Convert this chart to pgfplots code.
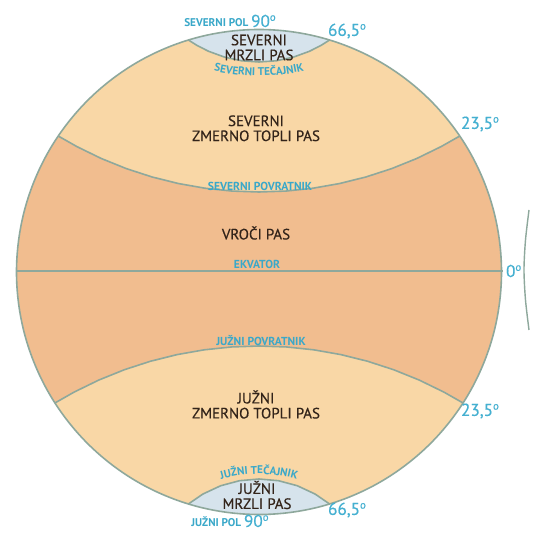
\documentclass[border=0pt]{standalone}
\usepackage{pgfplots}
\pgfplotsset{compat=1.18}
\usetikzlibrary{decorations.text}
\usepackage{fontspec}
\setmainfont{PT Sans}
\newfontfamily\semi[FakeBold=0.45]{PT Sans}
\definecolor{hot}{HTML}{F1BD8F}
\definecolor{warm}{HTML}{F9D7A6}
\definecolor{cold}{HTML}{D6E3EC}
\definecolor{edge}{HTML}{8EA89C}
\definecolor{cyantxt}{HTML}{3AA8C9}
\definecolor{degtxt}{HTML}{45B0D1}
\definecolor{darktxt}{HTML}{33241A}
\newcommand\dg{\raisebox{3.1pt}{\fontsize{5.4}{5}\selectfont o}}
\begin{document}
\begin{tikzpicture}
\begin{axis}[width=268pt,height=268pt,scale only axis,
  xmin=0,xmax=536,ymin=0,ymax=536,hide axis,clip=true,
  clip bounding box=upper bound]
% hot band background
\addplot[draw=none,fill=hot] coordinates {(-10,-10)(546,-10)(546,546)(-10,546)} -- cycle;
% north temperate
\addplot[draw=none,fill=warm] coordinates {
(-30,418.10)(30.94,418.10)(53.39,402.96)(58.2,400)(76.85,389.42)(101.18,377.54)(126.30,367.40)(152.05,359.03)(178.33,352.48)(205.0,347.78)(231.93,344.95)(259,344)(286.07,344.95)(313.0,347.78)(339.67,352.48)(365.95,359.03)(391.70,367.40)(416.82,377.54)(441.15,389.42)(459.8,400)(464.61,402.96)(487.06,418.10)(560,418.10)(560,560)(-30,560)} -- cycle;
% south temperate
\addplot[draw=none,fill=warm] coordinates {
(-30,114.79)(27.53,114.79)(50.32,130.16)(54.93,133)(74.12,143.91)(98.83,155.95)(124.31,166.25)(150.45,174.75)(177.12,181.39)(204.19,186.17)(231.53,189.04)(259,190)(286.47,189.04)(313.81,186.17)(340.88,181.39)(367.55,174.75)(393.69,166.25)(419.17,155.95)(443.88,143.91)(463.07,133)(467.68,130.16)(490.47,114.79)(560,114.79)(560,-30)(-30,-30)} -- cycle;
% north cap
\addplot[draw=none,fill=cold] coordinates {
(158,560)(169.66,511.92)(179.17,503.06)(188.4,496)(196.9,490.64)(208.48,484.74)(224.77,478.81)(241.71,475.21)(259,474)(276.29,475.21)(293.23,478.81)(309.52,484.74)(321.1,490.64)(329.6,496)(338.83,503.06)(348.34,511.92)(360,560)} -- cycle;
% south cap
\addplot[draw=none,fill=cold] coordinates {
(158,-30)(170.63,13.90)(179.71,24.15)(188.4,32)(202.93,41.98)(220.65,50.24)(239.53,55.30)(259,57)(278.47,55.30)(297.35,50.24)(315.07,41.98)(329.6,32)(338.29,24.15)(347.37,13.90)(360,-30)} -- cycle;
% white mask outside the globe
\addplot[draw=white,line width=78pt,smooth cycle,tension=0.6] coordinates {
(579.5,264)(568.58,346.95)(536.56,424.25)(485.63,490.63)(419.25,541.56)(341.95,573.58)(259,584.5)(176.05,573.58)(98.75,541.56)(32.37,490.63)(-18.56,424.25)(-50.58,346.95)(-61.5,264)(-50.58,181.05)(-18.56,103.75)(32.37,37.37)(98.75,-13.56)(176.05,-45.58)(259,-56.5)(341.95,-45.58)(419.25,-13.56)(485.63,37.37)(536.56,103.75)(568.58,181.05)};
% edge of the neighbouring globe
\addplot[draw=edge,line width=0.7pt,smooth] coordinates {(529,326)(525.5,296)(524,266)(525.5,236)(529,206)};
% outlines
\addplot[draw=edge,line width=0.8pt,smooth cycle,tension=0.6] coordinates {
(501.5,264)(493.24,326.76)(469.01,385.25)(430.47,435.47)(380.25,474.01)(321.76,498.24)(259,506.5)(196.24,498.24)(137.75,474.01)(87.53,435.47)(48.99,385.25)(24.76,326.76)(16.5,264)(24.76,201.24)(48.99,142.75)(87.53,92.53)(137.75,53.99)(196.24,29.76)(259,21.5)(321.76,29.76)(380.25,53.99)(430.47,92.53)(469.01,142.75)(493.24,201.24)};
\addplot[draw=edge,line width=0.8pt] coordinates {(16.5,265)(503,265)};
\addplot[draw=edge,line width=0.8pt] coordinates {
(58.2,400)(76.85,389.42)(101.18,377.54)(126.30,367.40)(152.05,359.03)(178.33,352.48)(205.0,347.78)(231.93,344.95)(259,344)(286.07,344.95)(313.0,347.78)(339.67,352.48)(365.95,359.03)(391.70,367.40)(416.82,377.54)(441.15,389.42)(459.8,400)};
\addplot[draw=edge,line width=0.8pt] coordinates {
(54.93,133)(74.12,143.91)(98.83,155.95)(124.31,166.25)(150.45,174.75)(177.12,181.39)(204.19,186.17)(231.53,189.04)(259,190)(286.47,189.04)(313.81,186.17)(340.88,181.39)(367.55,174.75)(393.69,166.25)(419.17,155.95)(443.88,143.91)(463.07,133)};
\addplot[draw=edge,line width=0.8pt] coordinates {
(188.4,496)(196.9,490.64)(208.48,484.74)(224.77,478.81)(241.71,475.21)(259,474)(276.29,475.21)(293.23,478.81)(309.52,484.74)(321.1,490.64)(329.6,496)};
\addplot[draw=edge,line width=0.8pt] coordinates {
(188.4,32)(202.93,41.98)(220.65,50.24)(239.53,55.30)(259,57)(278.47,55.30)(297.35,50.24)(315.07,41.98)(329.6,32)};
% labels
\tikzset{zone/.style={text=darktxt,align=center,font=\semi\fontsize{7.5}{7.5}\selectfont},
  line/.style={text=cyantxt,font=\bfseries\fontsize{5.8}{6}\selectfont},
  deg/.style={text=degtxt,font=\semi\fontsize{8.6}{9}\selectfont,anchor=west}}
\node[zone] at (axis cs:259,488.5) {SEVERNI\\MRZLI PAS};
\node[zone] at (axis cs:256,407.7) {SEVERNI\\ZMERNO TOPLI PAS};
\node[zone] at (axis cs:256,303) {VROČI PAS};
\node[zone] at (axis cs:256,131.5) {JUŽNI\\ZMERNO TOPLI PAS};
\node[zone] at (axis cs:257,41) {JUŽNI\\MRZLI PAS};
\path[decorate,decoration={text along path,text align=center,
  text={|\bfseries\fontsize{5.6}{6}\selectfont\color{cyantxt}|SEVERNI TEČAJNIK}}]
  (axis cs:185.95,474.2) .. controls (axis cs:232.8,455.3) and (axis cs:285.2,455.3) .. (axis cs:332.05,474.2);
\path[decorate,decoration={text along path,text align=center,
  text={|\bfseries\fontsize{5.6}{6}\selectfont\color{cyantxt}|JUŽNI TEČAJNIK}}]
  (axis cs:201.95,49.35) .. controls (axis cs:238.1,66.2) and (axis cs:279.9,66.2) .. (axis cs:316.05,49.35);
\node[line] at (axis cs:260,349.5) {SEVERNI POVRATNIK};
\node[line] at (axis cs:257,272) {EKVATOR};
\node[line] at (axis cs:261,195.5) {JUŽNI POVRATNIK};
\node[text=cyantxt,anchor=base] at (axis cs:230,509) {{\bfseries\fontsize{5.6}{6}\selectfont SEVERNI POL }{\color{degtxt}\semi\fontsize{8.6}{9}\selectfont 90\dg}};
\node[text=cyantxt,anchor=base] at (axis cs:230,9) {{\bfseries\fontsize{5.6}{6}\selectfont JUŽNI POL }{\color{degtxt}\semi\fontsize{8.6}{9}\selectfont 90\dg}};
\node[deg] at (axis cs:321,505) {66,5\dg};
\node[deg] at (axis cs:321,26) {66,5\dg};
\node[deg] at (axis cs:454,412) {23,5\dg};
\node[deg] at (axis cs:454,125) {23,5\dg};
\node[deg] at (axis cs:499,265) {0\dg};
\end{axis}
\end{tikzpicture}
\end{document}
